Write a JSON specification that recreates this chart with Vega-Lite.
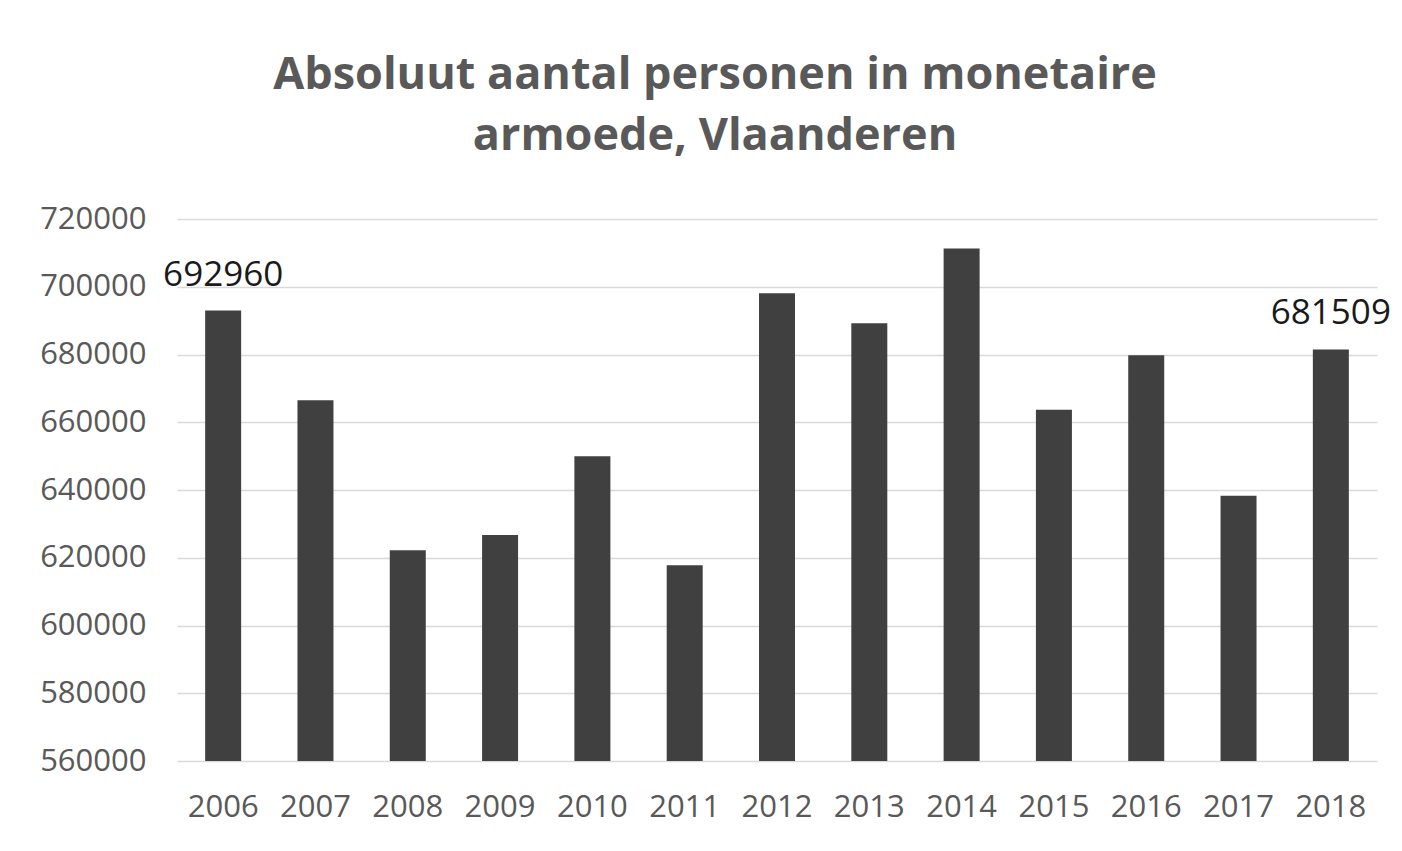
{
  "$schema": "https://vega.github.io/schema/vega-lite/v6.json",
  "autosize": "none",
  "width": 1200,
  "height": 542,
  "padding": {"left": 177, "top": 219, "right": 25, "bottom": 90},
  "background": "#ffffff",
  "config": {"view": {"stroke": null}},
  "title": {
    "text": ["Absoluut aantal personen in monetaire", "armoede, Vlaanderen"],
    "font": "Open Sans",
    "fontSize": 45,
    "fontWeight": "bold",
    "color": "#595959",
    "lineHeight": 61,
    "anchor": "middle",
    "frame": "group",
    "dx": -62,
    "offset": 44
  },
  "data": {
    "values": [
      {"year": "2006", "value": 692960},
      {"year": "2007", "value": 666500},
      {"year": "2008", "value": 622200},
      {"year": "2009", "value": 626700},
      {"year": "2010", "value": 650000},
      {"year": "2011", "value": 617800},
      {"year": "2012", "value": 698050},
      {"year": "2013", "value": 689200},
      {"year": "2014", "value": 711300},
      {"year": "2015", "value": 663700},
      {"year": "2016", "value": 679800},
      {"year": "2017", "value": 638300},
      {"year": "2018", "value": 681509}
    ]
  },
  "encoding": {
    "x": {
      "field": "year",
      "type": "ordinal",
      "scale": {"paddingInner": 0.61, "paddingOuter": 0.305},
      "axis": {
        "title": null,
        "labelAngle": 0,
        "ticks": false,
        "domain": false,
        "labelFont": "Open Sans",
        "labelFontSize": 31,
        "labelColor": "#595959",
        "labelPadding": 31
      }
    },
    "y": {
      "field": "value",
      "type": "quantitative",
      "scale": {"domain": [560000, 720000], "zero": false, "nice": false},
      "axis": {
        "title": null,
        "values": [560000, 580000, 600000, 620000, 640000, 660000, 680000, 700000, 720000],
        "format": "d",
        "ticks": false,
        "domain": false,
        "grid": true,
        "gridColor": "#d9d9d9",
        "gridWidth": 1.5,
        "labelFont": "Open Sans",
        "labelFontSize": 31,
        "labelColor": "#595959",
        "labelPadding": 31
      }
    }
  },
  "layer": [
    {
      "mark": {"type": "bar", "color": "#404040", "clip": true}
    },
    {
      "transform": [{"filter": "datum.year == '2006' || datum.year == '2018'"}],
      "mark": {
        "type": "text",
        "font": "Open Sans",
        "fontSize": 35,
        "color": "#1a1a1a",
        "baseline": "alphabetic",
        "align": "center",
        "dy": -25
      },
      "encoding": {
        "text": {"field": "value", "type": "quantitative", "format": "d"}
      }
    }
  ]
}
